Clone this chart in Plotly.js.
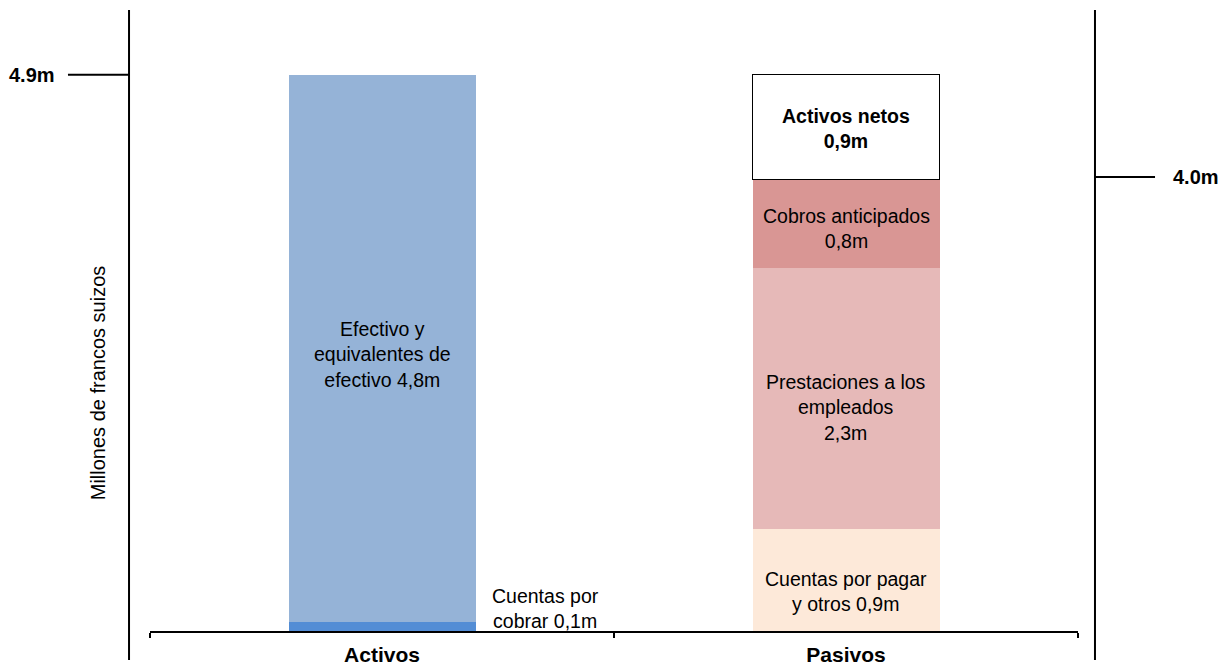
<!DOCTYPE html>
<html>
<head>
<meta charset="utf-8">
<script src="https://cdn.plot.ly/plotly-3.0.1.min.js"></script>
<style>html,body{margin:0;padding:0;background:#fff;}#chart{width:1222px;height:668px;}</style>
</head>
<body>
<div id="chart"></div>
<script>
// Data
const categories = ["Activos", "Pasivos"];
const categoryLabels = ["<b>Activos</b>", "<b>Pasivos</b>"];
const seriesNames = ["Cuentas por cobrar", "Efectivo y equivalentes de efectivo",
                     "Cuentas por pagar y otros", "Prestaciones a los empleados",
                     "Cobros anticipados", "Activos netos"];
const seriesCategory = ["Activos", "Activos", "Pasivos", "Pasivos", "Pasivos", "Pasivos"];
const seriesValues = [0.08, 4.82, 0.9, 2.3, 0.78, 0.92];
const seriesColors = ["#538dd5", "#95b3d7", "#fde9d9", "#e6b9b8", "#d99694", "#ffffff"];
const seriesText = [
  "",
  "Efectivo y<br>equivalentes de<br>efectivo 4,8m",
  "Cuentas por pagar<br>y otros 0,9m",
  "Prestaciones a los<br>empleados<br>2,3m",
  "Cobros anticipados<br>0,8m",
  "<b>Activos netos<br>0,9m</b>"
];
const totalAssets = 4.9;
const totalLiabilities = 4.0;
const totalAssetsLabel = "4.9m";
const totalLiabilitiesLabel = "4.0m";
const outsideLabel = "Cuentas por<br>cobrar 0,1m";
const yTitle = "Millones de francos suizos";

const FONT = "Liberation Sans, Arial, sans-serif";
const textShift = [0, -6, -12, -9, -5, -1];

const traces = seriesNames.map((n, i) => ({
  type: "bar",
  name: n,
  x: [seriesCategory[i]],
  y: [seriesValues[i]],
  width: 0.403,
  marker: {
    color: seriesColors[i],
    line: {color: i === 5 ? "#000000" : "rgba(0,0,0,0)", width: i === 5 ? 1.2 : 0}
  },
  hoverinfo: "skip"
}));

// cumulative midpoints
const cum = {};
const annotations = [];
seriesValues.forEach((v, i) => {
  const c = seriesCategory[i];
  const base = cum[c] || 0;
  cum[c] = base + v;
  if (seriesText[i]) {
    annotations.push({
      x: c, y: base + v / 2, xref: "x", yref: "y",
      xanchor: "center", yanchor: "middle",
      text: seriesText[i], showarrow: false,
      yshift: textShift[i],
      font: {family: FONT, size: 19.5, color: "#000"},
      align: "center"
    });
  }
});
annotations.push({
  x: "Activos", y: 0.2, xref: "x", yref: "y", xshift: 163,
  xanchor: "center", yanchor: "middle",
  text: outsideLabel, showarrow: false,
  font: {family: FONT, size: 19.5, color: "#000"}, align: "center"
});
annotations.push({
  x: -0.1272, y: totalAssets, xref: "paper", yref: "y",
  xanchor: "center", yanchor: "middle",
  text: "<b>" + totalAssetsLabel + "</b>", showarrow: false,
  font: {family: FONT, size: 20, color: "#000"}
});
annotations.push({
  x: 1.1272, y: totalLiabilities, xref: "paper", yref: "y",
  xanchor: "center", yanchor: "middle",
  text: "<b>" + totalLiabilitiesLabel + "</b>", showarrow: false,
  font: {family: FONT, size: 20, color: "#000"}
});
annotations.push({
  x: -0.056, y: 0.399, xref: "paper", yref: "paper",
  xanchor: "center", yanchor: "middle",
  text: yTitle, showarrow: false, textangle: -90,
  font: {family: FONT, size: 20, color: "#000"}
});

const shapes = [
  {type: "line", xref: "paper", yref: "paper", x0: -0.0226, x1: -0.0226, y0: -0.0467, y1: 1,
   line: {color: "#000", width: 2}},
  {type: "line", xref: "paper", yref: "paper", x0: 1.0183, x1: 1.0183, y0: -0.0467, y1: 1,
   line: {color: "#000", width: 2}},
  {type: "line", xref: "paper", yref: "y", x0: -0.0884, x1: -0.0226, y0: totalAssets, y1: totalAssets,
   line: {color: "#000", width: 2}},
  {type: "line", xref: "paper", yref: "y", x0: 1.0183, x1: 1.0830, y0: totalLiabilities, y1: totalLiabilities,
   line: {color: "#000", width: 2}}
];

const layout = {
  width: 1222, height: 668,
  margin: {l: 150, r: 144, t: 10, b: 37, pad: 0},
  paper_bgcolor: "#ffffff", plot_bgcolor: "#ffffff",
  barmode: "stack",
  showlegend: false,
  xaxis: {
    type: "category",
    tickmode: "array", tickvals: categories, ticktext: categoryLabels,
    range: [-0.5, 1.5],
    showline: true, linecolor: "#000", linewidth: 2,
    ticks: "outside", tickson: "boundaries", ticklen: 5, tickwidth: 2, tickcolor: "#000",
    ticklabelstandoff: 4,
    tickfont: {family: FONT, size: 21, color: "#000"},
    showgrid: false, zeroline: false, fixedrange: true
  },
  yaxis: {
    range: [0, 621 / 113.5],
    visible: false, showgrid: false, zeroline: false, fixedrange: true
  },
  annotations: annotations,
  shapes: shapes
};

Plotly.newPlot("chart", traces, layout, {displayModeBar: false, staticPlot: true});
</script>
</body>
</html>
